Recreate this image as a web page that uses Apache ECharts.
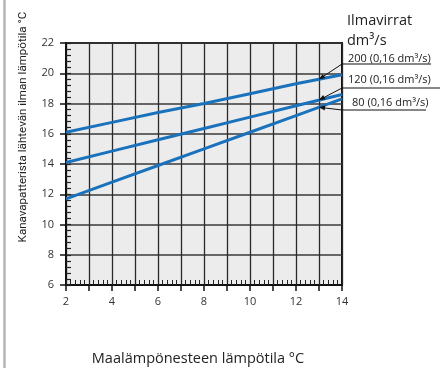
<!DOCTYPE html>
<html><head><meta charset="utf-8">
<script src="https://cdn.jsdelivr.net/npm/echarts@6/dist/echarts.min.js"></script>
<style>html,body{margin:0;padding:0;background:#fff}#c{width:441px;height:368px}</style>
</head><body><div id="c"></div>
<script>
const xValues = [2, 4, 6, 8, 10, 12, 14];
const flow200 = [16.1, 16.75, 17.4, 18.0, 18.65, 19.3, 19.9];
const flow120 = [14.1, 14.85, 15.6, 16.35, 17.1, 17.85, 18.6];
const flow80  = [11.7, 12.8, 13.9, 15.0, 16.1, 17.2, 18.3];
const seriesNames = ['200 (0,16 dm³/s)', '120 (0,16 dm³/s)', '80 (0,16 dm³/s)'];
const yTitle = 'Kanavapatterista lähtevän ilman lämpötila °C';
const xTitle = 'Maalämpönesteen lämpötila °C';
const legendTitle1 = 'Ilmavirrat';
const legendTitle2 = 'dm³/s';

const FONT = 'Open Sans';
const chart = echarts.init(document.getElementById('c'), null, {renderer: 'canvas'});
const mk = arr => xValues.map((x, i) => [x, arr[i]]);
const allSeries = [flow200, flow120, flow80];
const GH = 242, GW = 276;

chart.setOption({
  animation: false,
  grid: {left: 66, top: 43, width: GW, height: GH, show: true, backgroundColor: '#ececec', borderColor: '#111', borderWidth: 2},
  xAxis: [
    {type: 'value', min: 2, max: 14, interval: 1, position: 'bottom',
     axisLine: {show: true, lineStyle: {color: '#111', width: 2}},
     axisTick: {show: true, length: 6, lineStyle: {color: '#111', width: 1.5}},
     axisLabel: {margin: 11, color: '#333', fontSize: 11, fontFamily: FONT, formatter: v => (Math.round(v) % 2 === 0 ? String(Math.round(v)) : '')},
     splitLine: {show: true, lineStyle: {color: '#2a2a2a', width: 1.3}}},
    {type: 'value', min: 2, max: 14, interval: 0.2, position: 'top', offset: -GH,
     axisLine: {show: false}, axisLabel: {show: false}, splitLine: {show: false},
     axisTick: {show: true, inside: false, length: 5, lineStyle: {color: '#222', width: 1}}}
  ],
  yAxis: [
    {type: 'value', min: 6, max: 22, interval: 2, position: 'left',
     axisLine: {show: true, lineStyle: {color: '#111', width: 2}},
     axisTick: {show: true, length: 6, lineStyle: {color: '#111', width: 1.5}},
     axisLabel: {margin: 12, color: '#333', fontSize: 11, fontFamily: FONT},
     splitLine: {show: true, lineStyle: {color: '#3a3a3a', width: 1.5}}},
    {type: 'value', min: 6, max: 22, interval: 0.4, position: 'right', offset: -GW,
     axisLine: {show: false}, axisLabel: {show: false}, splitLine: {show: false},
     axisTick: {show: true, inside: false, length: 5, lineStyle: {color: '#222', width: 1.2}}}
  ],
  series: allSeries.map((arr, i) => ({
    type: 'line', name: seriesNames[i], data: mk(arr), xAxisIndex: 0, yAxisIndex: 0,
    showSymbol: false, lineStyle: {color: '#1a72bd', width: 3}, z: 5
  }))
});

const arrowX = 13;
function valAt(arr, x) {
  for (let i = 0; i < xValues.length - 1; i++) {
    if (x >= xValues[i] && x <= xValues[i + 1]) {
      const t = (x - xValues[i]) / (xValues[i + 1] - xValues[i]);
      return arr[i] + t * (arr[i + 1] - arr[i]);
    }
  }
  return arr[arr.length - 1];
}
const YFONT = 'Roboto';
const mctx = document.createElement('canvas').getContext('2d');
mctx.font = '14px ' + YFONT;
const w14 = mctx.measureText(yTitle).width;
const yFont = Math.min(15, 14 * 231 / w14);

const gridRight = 342;
const labelCfg = [
  {tx: 348, ty: 59, uy: 64, ux2: 431},
  {tx: 348, ty: 80, uy: 88, ux2: 440},
  {tx: 352, ty: 103, uy: 110, ux2: 426}
];
const graphics = [
  {type: 'line', shape: {x1: 4.5, y1: 0, x2: 4.5, y2: 368}, style: {stroke: '#b5b5b5', lineWidth: 2.5}},
  {type: 'text', x: 23, y: 127, rotation: Math.PI / 2, style: {text: yTitle, font: yFont.toFixed(2) + 'px ' + YFONT, fill: '#222', align: 'center', verticalAlign: 'middle'}},
  {type: 'text', x: 198, y: 359, style: {text: xTitle, font: '14.5px ' + FONT, fill: '#222', align: 'center', verticalAlign: 'middle'}},
  {type: 'text', x: 347, y: 21, style: {text: legendTitle1, font: '14.5px ' + FONT, fill: '#222', align: 'left', verticalAlign: 'middle'}},
  {type: 'text', x: 347, y: 41, style: {text: legendTitle2, font: '14.5px ' + FONT, fill: '#222', align: 'left', verticalAlign: 'middle'}}
];
allSeries.forEach((arr, i) => {
  const c = labelCfg[i];
  const tip = chart.convertToPixel({xAxisIndex: 0, yAxisIndex: 0}, [arrowX, valAt(arr, arrowX)]);
  const sx = gridRight, sy = c.uy;
  graphics.push({type: 'polyline', z: 10, shape: {points: [[tip[0], tip[1]], [sx, sy], [c.ux2, sy]]}, style: {stroke: '#111', lineWidth: 1, fill: null}});
  const ang = Math.atan2(sy - tip[1], sx - tip[0]);
  const L = 6, W = 2.5;
  const bx = tip[0] + Math.cos(ang) * L, by = tip[1] + Math.sin(ang) * L;
  const px = -Math.sin(ang) * W, py = Math.cos(ang) * W;
  graphics.push({type: 'polygon', z: 10, shape: {points: [[tip[0], tip[1]], [bx + px, by + py], [bx - px, by - py]]}, style: {fill: '#111'}});
  graphics.push({type: 'text', z: 10, x: c.tx, y: c.ty, style: {text: seriesNames[i], font: '11px ' + FONT, fill: '#222', align: 'left', verticalAlign: 'middle'}});
});
chart.setOption({graphic: graphics});
</script></body></html>
